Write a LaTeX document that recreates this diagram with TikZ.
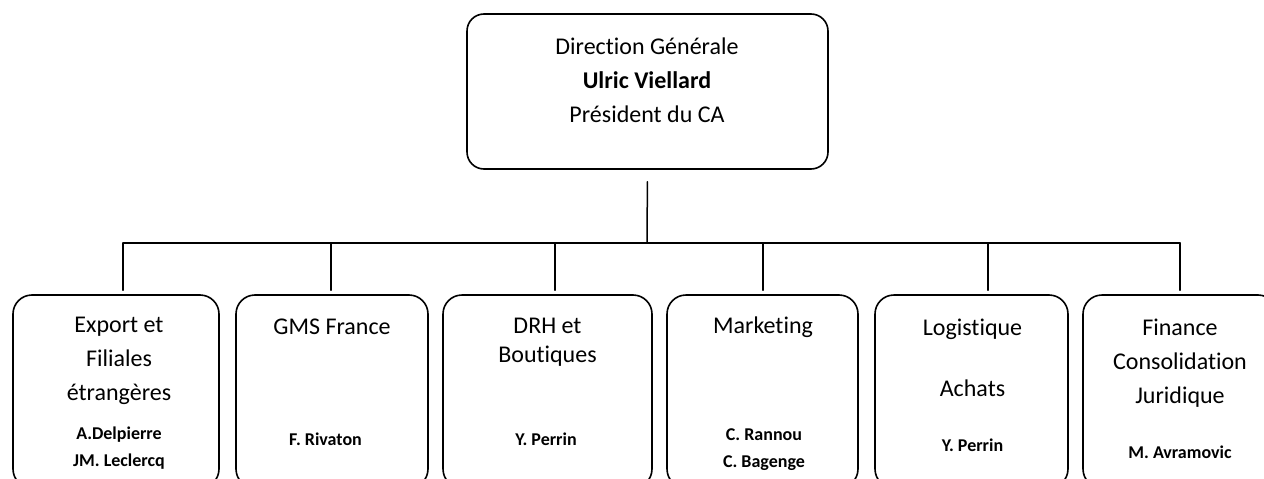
\documentclass[tikz,border=0pt]{standalone}
\usepackage{fontspec}
\setmainfont{Carlito}[Ligatures=NoCommon]
\usetikzlibrary{calc}

\begin{document}
\begin{tikzpicture}[x=1pt, y=-1pt, line cap=round,
  unit/.style={draw, line width=1.6pt, rounded corners=19pt, minimum height=193pt, inner sep=0pt},
  title/.style={align=center, font=\fontsize{24}{34}\selectfont},
  person/.style={align=center, font=\fontsize{18}{27}\selectfont\bfseries},
  link/.style={line width=1.5pt}]
  \useasboundingbox (0,0) rectangle (1264,479);
  % direction
  \node[unit, minimum width=361pt, minimum height=155pt, rounded corners=17pt] (dg) at (647.5,91.5) {};
  \node[title] (dg-t) at (647,80.5) {Direction Générale\\\textbf{Ulric Viellard}\\Président du CA};
  % departments
  \node[unit, minimum width=206pt] (exp) at (116,391.5) {};
  \node[unit, minimum width=192pt] (gms) at (332,391.5) {};
  \node[unit, minimum width=209pt] (drh) at (547.5,391.5) {};
  \node[unit, minimum width=191pt] (mkt) at (762.5,391.5) {};
  \node[unit, minimum width=193pt] (log) at (971.5,391.5) {};
  \node[unit, minimum width=194pt] (fin) at (1180,391.5) {};
  % titles
  \node[title] (exp-t) at (119,361) {Export et\\Filiales\\étrangères};
  \node[title] (gms-t) at (332,327) {GMS France};
  \node[title, font=\fontsize{24}{29}\selectfont] (drh-t) at (547.5,342.5) {DRH et\\Boutiques};
  \node[title] (mkt-t) at (763,327) {Marketing};
  \node[title, font=\fontsize{24}{61}\selectfont] (log-t) at (972.5,357.5) {Logistique\\Achats};
  \node[title] (fin-t) at (1180,363) {Finance\\Consolidation\\Juridique};
  % people
  \node[person] (exp-n) at (119,448.5) {A.Delpierre\\JM. Leclercq};
  \node[person] (gms-n) at (325.5,439) {F. Rivaton};
  \node[person] (drh-n) at (546,439) {Y. Perrin};
  \node[person] (mkt-n) at (764,449.5) {C. Rannou\\C. Bagenge};
  \node[person] (log-n) at (972.5,445) {Y. Perrin};
  \node[person] (fin-n) at (1180,452) {M. Avramovic};
  % connectors
  \coordinate (bus) at (647,243);
  \draw[link, shorten <=12pt] (dg.south) -- (bus);
  \foreach \n/\x in {exp/123, gms/331, drh/555, mkt/763, log/988, fin/1180}
    \coordinate (t-\n) at (\x,243);
  \draw[link] (t-exp) -- (t-fin);
  \foreach \n in {exp, gms, drh, mkt, log, fin}
    \draw[link, shorten >=4pt] (t-\n) -- (t-\n |- \n.north);
\end{tikzpicture}
\end{document}
